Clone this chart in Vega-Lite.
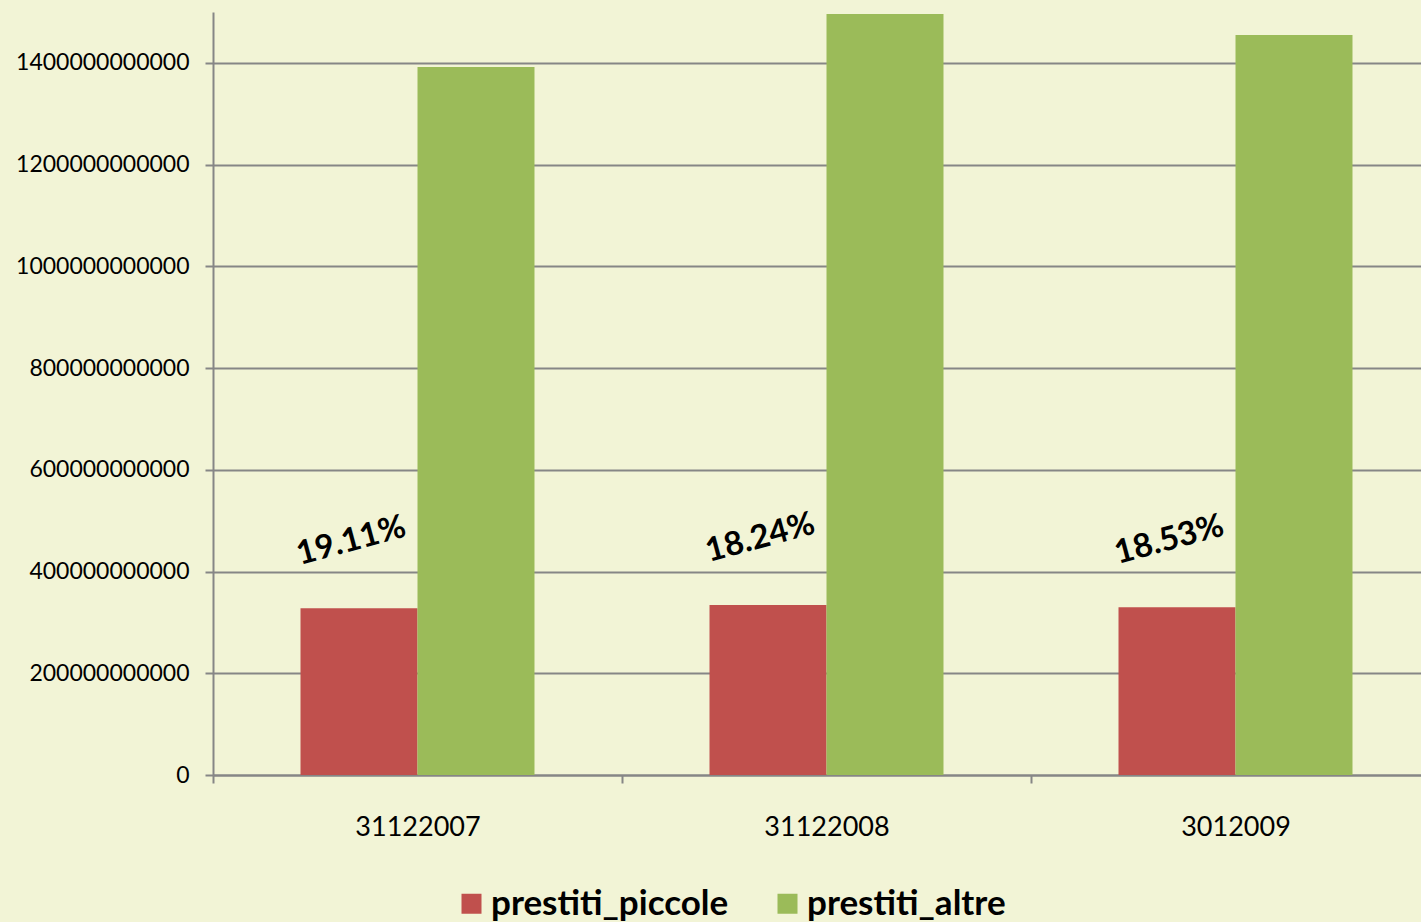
{
  "$schema": "https://vega.github.io/schema/vega-lite/v6.json",
  "width": 1208,
  "height": 763,
  "autosize": {"type": "none"},
  "padding": {"left": 213, "top": 12, "right": 0, "bottom": 147},
  "background": "#f2f4d6",
  "config": {
    "view": {"stroke": null},
    "font": "Lato"
  },
  "data": {
    "values": [
      {"date": "31122007", "series": "prestiti_piccole", "value": 328000000000, "label": "19.11%"},
      {"date": "31122007", "series": "prestiti_altre", "value": 1392000000000, "label": ""},
      {"date": "31122008", "series": "prestiti_piccole", "value": 334000000000, "label": "18.24%"},
      {"date": "31122008", "series": "prestiti_altre", "value": 1496000000000, "label": ""},
      {"date": "3012009", "series": "prestiti_piccole", "value": 330000000000, "label": "18.53%"},
      {"date": "3012009", "series": "prestiti_altre", "value": 1455000000000, "label": ""}
    ]
  },
  "encoding": {
    "x": {
      "field": "date",
      "type": "nominal",
      "sort": ["31122007", "31122008", "3012009"],
      "scale": {"paddingInner": 0, "paddingOuter": 0, "range": [0, 1227]},
      "axis": {
        "title": null,
        "labelAngle": 0,
        "labelFontSize": 27,
        "labelColor": "#000000",
        "labelPadding": 31,
        "tickBand": "extent",
        "tickSize": 8,
        "tickColor": "#868686",
        "tickWidth": 2,
        "domainColor": "#868686",
        "domainWidth": 2,
        "grid": false
      }
    },
    "xOffset": {
      "field": "series",
      "type": "nominal",
      "sort": ["prestiti_piccole", "prestiti_altre"],
      "scale": {"paddingInner": 0, "paddingOuter": 0.748}
    },
    "y": {
      "field": "value",
      "type": "quantitative",
      "scale": {"domain": [0, 1500000000000], "nice": false},
      "axis": {
        "title": null,
        "values": [0, 200000000000, 400000000000, 600000000000, 800000000000, 1000000000000, 1200000000000, 1400000000000],
        "format": "d",
        "labelFontSize": 23,
        "labelColor": "#000000",
        "labelPadding": 16,
        "tickSize": 8,
        "tickColor": "#868686",
        "tickWidth": 2,
        "domainColor": "#868686",
        "domainWidth": 2,
        "grid": true,
        "gridColor": "#868686",
        "gridWidth": 2
      }
    }
  },
  "layer": [
    {
      "mark": {"type": "bar"},
      "encoding": {
        "color": {
          "field": "series",
          "type": "nominal",
          "scale": {"domain": ["prestiti_piccole", "prestiti_altre"], "range": ["#c0504d", "#9bbb59"]},
          "legend": {
            "title": null,
            "orient": "none",
            "direction": "horizontal",
            "legendX": 241,
            "legendY": 874,
            "symbolType": "square",
            "symbolSize": 400,
            "symbolStrokeWidth": 0,
            "labelFontSize": 35,
            "labelFontWeight": "bold",
            "labelColor": "#000000",
            "labelOffset": 2,
            "columnPadding": 41,
            "labelLimit": 400
          }
        }
      }
    },
    {
      "transform": [{"filter": "datum.series === 'prestiti_piccole'"}],
      "mark": {
        "type": "text",
        "angle": -15,
        "align": "center",
        "baseline": "middle",
        "dx": 10,
        "dy": -67,
        "fontSize": 33,
        "fontWeight": "bold",
        "color": "#000000"
      },
      "encoding": {
        "text": {"field": "label"}
      }
    }
  ]
}
